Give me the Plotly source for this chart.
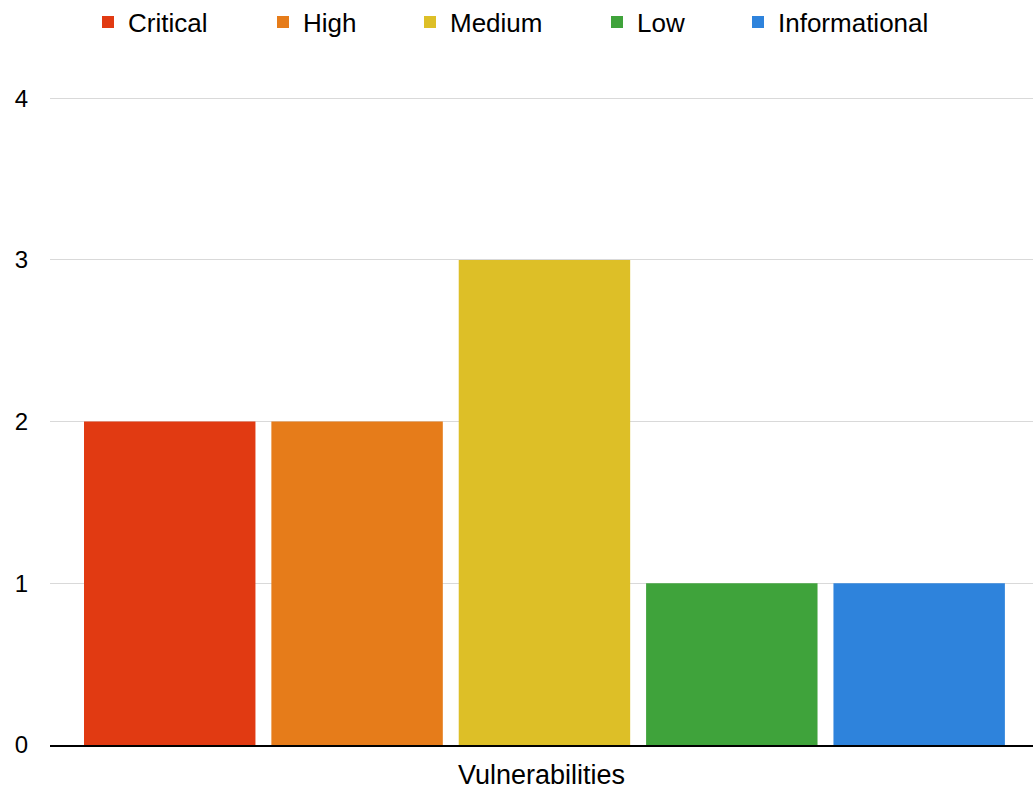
import plotly.graph_objects as go

categories = ["Vulnerabilities"]
series_names = ["Critical", "High", "Medium", "Low", "Informational"]
critical = [2]
high = [2]
medium = [3]
low = [1]
informational = [1]
series_values = [critical, high, medium, low, informational]
colors = ["#E13A12", "#E67C1A", "#DDBF27", "#3FA33B", "#2E83DC"]
y_ticks = [0, 1, 2, 3, 4]

# legend entry left positions (pixels in the 1033px-wide page)
legend_x_px = [88, 263, 410, 597, 738]
legend_ids = ["legend", "legend2", "legend3", "legend4", "legend5"]

fig = go.Figure()
for name, vals, col, lid in zip(series_names, series_values, colors, legend_ids):
    fig.add_trace(go.Bar(x=categories, y=vals, name=name, legend=lid,
                         marker=dict(color=col, line=dict(width=0))))

legend_layout = {}
for lid, xp in zip(legend_ids, legend_x_px):
    legend_layout[lid] = dict(orientation="h", x=xp / 1033, xanchor="left", xref="container",
                              y=1 - 22 / 794, yanchor="middle", yref="container",
                              font=dict(size=26), itemwidth=30,
                              bgcolor="rgba(0,0,0,0)", borderwidth=0)

fig.update_layout(
    width=1033, height=794,
    margin=dict(l=50, r=0, t=95, b=49),
    paper_bgcolor="white", plot_bgcolor="white",
    barmode="group", bargap=0.047, bargroupgap=0.085,
    font=dict(family="Liberation Sans, Arial, sans-serif", size=24, color="black"),
    showlegend=True,
    **legend_layout,
)
fig.update_xaxes(showticklabels=False, showline=True, linecolor="black", linewidth=2,
                 range=[-0.503, 0.497],
                 title=dict(text="Vulnerabilities", standoff=19, font=dict(size=27)))
fig.update_yaxes(range=[0, 4.02], tickvals=y_ticks, showgrid=True, gridcolor="#D9D9D9", gridwidth=1,
                 zeroline=False, ticklabelstandoff=21, tickfont=dict(size=24))

fig.write_html("out.html")
